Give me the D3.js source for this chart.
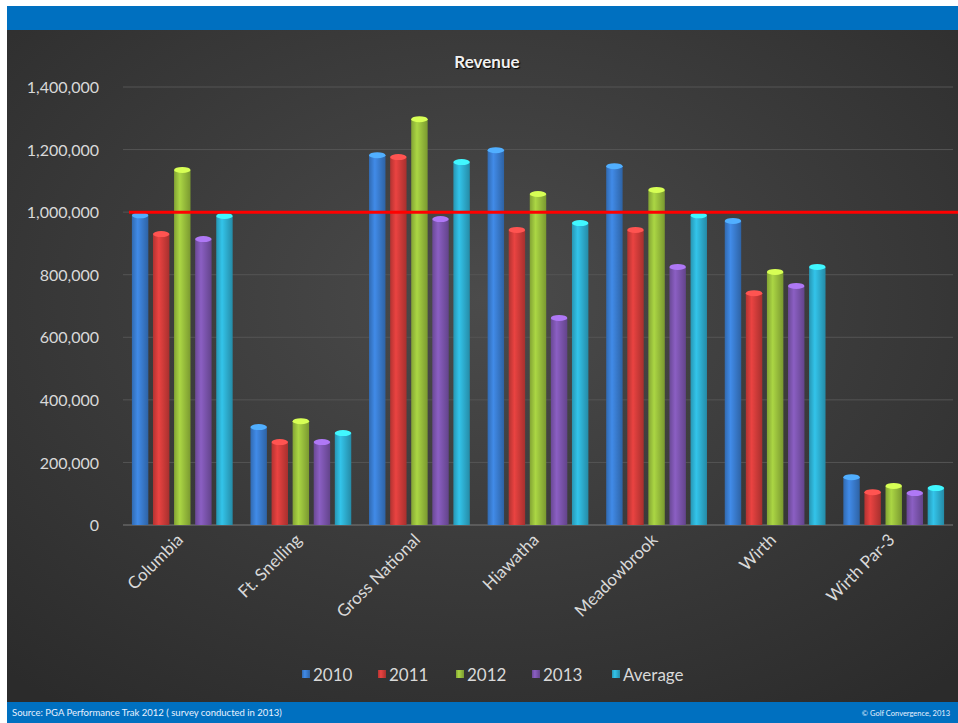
<!DOCTYPE html>
<html>
<head>
<meta charset="utf-8">
<script src="https://cdn.jsdelivr.net/npm/d3@7"></script>
<style>
  html, body { margin: 0; padding: 0; background: #ffffff; }
  svg { display: block; }
</style>
</head>
<body>
<div id="chart"></div>
<script>
// chart data
const categories = ["Columbia", "Ft. Snelling", "Gross National", "Hiawatha", "Meadowbrook", "Wirth", "Wirth Par-3"];
const seriesNames = ["2010", "2011", "2012", "2013", "Average"];
const rev2010 = [990000, 313000, 1182000, 1198000, 1147000, 972000, 153000];
const rev2011 = [930000, 265000, 1176000, 943000, 943000, 741000, 105000];
const rev2012 = [1135000, 332000, 1297000, 1058000, 1071000, 809000, 125000];
const rev2013 = [914000, 265000, 978000, 662000, 825000, 764000, 102000];
const revAvg = [988000, 294000, 1160000, 965000, 990000, 825000, 118000];
const yTicks = [0, 200000, 400000, 600000, 800000, 1000000, 1200000, 1400000];
const targetLine = 1000000;
const seriesColors = ["#3b7fd4", "#d63d3b", "#9cc43e", "#7f57b2", "#2fb3d6"];

const allSeries = [rev2010, rev2011, rev2012, rev2013, revAvg];

const W = 958, H = 723;
const plot = { left: 123, right: 953, top: 87, bottom: 525 };
const font = "Lato, 'Open Sans', sans-serif";

const svg = d3.select("#chart").append("svg")
    .attr("width", W)
    .attr("height", H);

const defs = svg.append("defs");

// background gradient
const bg = defs.append("radialGradient").attr("id", "bgGrad")
    .attr("cx", "50%").attr("cy", "40%").attr("r", "75%");
bg.append("stop").attr("offset", "0%").attr("stop-color", "#4b4b4b");
bg.append("stop").attr("offset", "100%").attr("stop-color", "#2b2b2b");

// bar gradients, one per colour
seriesColors.forEach((c, i) => {
    const base = d3.color(c);
    const g = defs.append("linearGradient").attr("id", "barGrad" + i)
        .attr("x1", "0%").attr("x2", "100%").attr("y1", "0%").attr("y2", "0%");
    g.append("stop").attr("offset", "0%").attr("stop-color", base.darker(0.5));
    g.append("stop").attr("offset", "35%").attr("stop-color", base.brighter(0.25));
    g.append("stop").attr("offset", "100%").attr("stop-color", base.darker(0.7));
});

// frame
svg.append("rect").attr("x", 0).attr("y", 0).attr("width", W).attr("height", H).attr("fill", "#ffffff");
svg.append("rect").attr("x", 7).attr("y", 30).attr("width", W - 7).attr("height", 672).attr("fill", "url(#bgGrad)");
svg.append("rect").attr("x", 7).attr("y", 6).attr("width", W - 7).attr("height", 24).attr("fill", "#0070c0");
svg.append("rect").attr("x", 7).attr("y", 702).attr("width", W - 7).attr("height", 21).attr("fill", "#0070c0");

svg.append("text")
    .attr("x", 12).attr("y", 716)
    .attr("font-family", font)
    .attr("font-size", 9.5)
    .attr("fill", "#e8f0ff")
    .text("Source:  PGA Performance Trak 2012 ( survey conducted in 2013)");

svg.append("text")
    .attr("x", 950).attr("y", 716)
    .attr("text-anchor", "end")
    .attr("font-family", font)
    .attr("font-size", 7.5)
    .attr("fill", "#e8f0ff")
    .text("© Golf Convergence, 2013");

// title
svg.append("text")
    .attr("x", 487).attr("y", 68)
    .attr("text-anchor", "middle")
    .attr("font-family", font)
    .attr("font-weight", "bold")
    .attr("font-size", 17)
    .attr("fill", "#f0f0f0")
    .attr("style", "text-shadow: 1px 1px 1px #000")
    .text("Revenue");

// scales
const x0 = d3.scaleBand()
    .domain(categories)
    .range([plot.left, plot.right])
    .paddingInner(0.15)
    .paddingOuter(0.075);

const x1 = d3.scaleBand()
    .domain(seriesNames)
    .range([0, x0.bandwidth()])
    .paddingInner(0.22)
    .paddingOuter(0);

const y = d3.scaleLinear()
    .domain([0, 1400000])
    .range([plot.bottom, plot.top]);

// gridlines
svg.append("g").selectAll("line")
    .data(yTicks)
    .join("line")
    .attr("x1", plot.left).attr("x2", plot.right)
    .attr("y1", d => y(d)).attr("y2", d => y(d))
    .attr("stroke", d => d === 0 ? "#7a7a7a" : "#555555")
    .attr("stroke-width", 1);

// y axis
const yAxis = svg.append("g")
    .attr("transform", `translate(${plot.left - 21},0)`)
    .call(d3.axisLeft(y).tickValues(yTicks).tickSize(0).tickFormat(d3.format(",")));
yAxis.select(".domain").remove();
yAxis.selectAll("text")
    .attr("font-family", font)
    .attr("font-size", 16)
    .attr("fill", "#d9d9d9")
    .attr("dy", "0.35em");

// bars
const groups = svg.append("g").selectAll("g")
    .data(categories)
    .join("g")
    .attr("transform", d => `translate(${x0(d)},0)`);

groups.each(function(cat, ci) {
    const g = d3.select(this);
    const vals = seriesNames.map((s, si) => ({ s, si, v: allSeries[si][ci] }));
    g.selectAll("rect")
        .data(vals)
        .join("rect")
        .attr("x", d => x1(d.s))
        .attr("y", d => y(d.v))
        .attr("width", x1.bandwidth())
        .attr("height", d => y(0) - y(d.v))
        .attr("fill", d => `url(#barGrad${d.si})`);
    g.selectAll("ellipse")
        .data(vals)
        .join("ellipse")
        .attr("cx", d => x1(d.s) + x1.bandwidth() / 2)
        .attr("cy", d => y(d.v))
        .attr("rx", x1.bandwidth() / 2)
        .attr("ry", 3)
        .attr("fill", d => d3.color(seriesColors[d.si]).brighter(0.9));
});

// red target line
svg.append("line")
    .attr("x1", plot.left + 6).attr("x2", W)
    .attr("y1", y(targetLine)).attr("y2", y(targetLine))
    .attr("stroke", "#ff0000")
    .attr("stroke-width", 3);

// x labels
svg.append("g").selectAll("text")
    .data(categories)
    .join("text")
    .attr("transform", d => `translate(${x0(d) + x0.bandwidth() / 2 + 2},${plot.bottom + 16}) rotate(-45)`)
    .attr("text-anchor", "end")
    .attr("font-family", font)
    .attr("font-size", 17)
    .attr("fill", "#d9d9d9")
    .text(d => d);

// legend
const legendX = [302, 378, 456, 532, 612];
const legend = svg.append("g").selectAll("g")
    .data(seriesNames)
    .join("g")
    .attr("transform", (d, i) => `translate(${legendX[i]},675)`);
legend.append("rect")
    .attr("x", 0).attr("y", -5)
    .attr("width", 8).attr("height", 8)
    .attr("fill", (d, i) => `url(#barGrad${i})`);
legend.append("text")
    .attr("x", 11).attr("y", 0)
    .attr("dy", "0.35em")
    .attr("font-family", font)
    .attr("font-size", 17)
    .attr("fill", "#d9d9d9")
    .text(d => d);
</script>
</body>
</html>
